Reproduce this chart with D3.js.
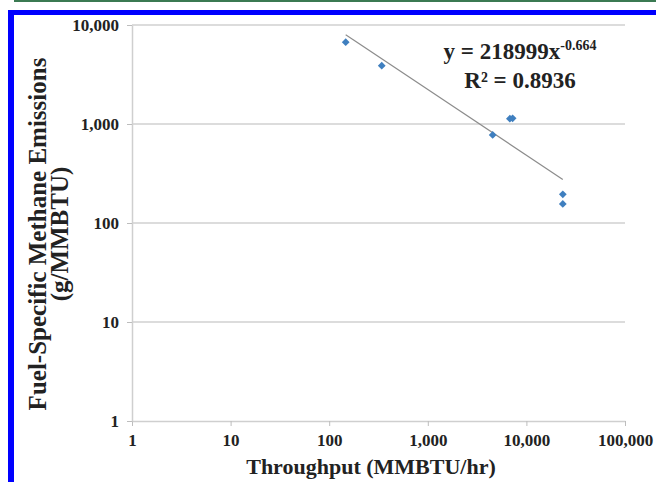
<!DOCTYPE html>
<html lang="en">
<head>
    <meta charset="UTF-8">
    <title>Methane emissions vs throughput</title>
    <script src="https://d3js.org/d3.v7.min.js"></script>
    <style>
        body {margin: 0; background: white;}
        text {font-family: "Liberation Serif", "Times New Roman", serif; font-weight: bold; fill: #222;}
        .tick line {stroke: #bdbdbd;}
        .domain {stroke: #cfcfcf;}
    </style>
</head>
<body>
<script>
    const width = 656;
    const height = 482;

    // throughput (MMBTU/hr) and fuel-specific emissions (g/MMBTU)
    const throughput = [147, 341, 4550, 6800, 7250, 23400, 23400];
    const emissions  = [6700, 3880, 775, 1130, 1140, 195, 156];

    const xTicks = [1, 10, 100, 1000, 10000, 100000];
    const yTicks = [1, 10, 100, 1000, 10000];

    // power trendline shown on the chart
    const fitCoef = 218999;
    const fitExp  = -0.664;
    const fitR2   = "0.8936";

    const svg = d3.select("body").append("svg")
            .attr("width", width).attr("height", height);

    // frame: green rule on top, blue border left/top
    svg.append("rect").attr("x", 14).attr("y", 0).attr("width", width - 14).attr("height", 2)
            .style("fill", "#3b7a52");
    svg.append("rect").attr("x", 8).attr("y", 10).attr("width", width - 8).attr("height", 5)
            .style("fill", "#0000ff");
    svg.append("rect").attr("x", 8).attr("y", 10).attr("width", 6).attr("height", height - 10)
            .style("fill", "#0000ff");

    const x = d3.scaleLog().domain([1, 100000]).range([132, 625]);
    const y = d3.scaleLog().domain([1, 10000]).range([421, 25]);

    // horizontal gridlines
    svg.append("g").attr("class", "grid")
            .selectAll("line")
            .data(yTicks.slice(1))
            .enter()
            .append("line")
            .attr("x1", x(1)).attr("x2", x(100000))
            .attr("y1", d => y(d)).attr("y2", d => y(d))
            .style("stroke", "#d0d0d0")
            .style("stroke-width", 1.5);

    const xAxis = svg.append("g")
            .attr("transform", `translate(0,${y(1)})`)
            .call(d3.axisBottom(x).tickValues(xTicks).tickFormat(d3.format(",")).tickSize(5).tickSizeOuter(0));

    const yAxis = svg.append("g")
            .attr("transform", `translate(${x(1)},0)`)
            .call(d3.axisLeft(y).tickValues(yTicks).tickFormat(d3.format(",")).tickSize(5).tickSizeOuter(0));

    [xAxis, yAxis].forEach(a => {
        a.select(".domain").style("stroke-width", 1.5);
        a.selectAll("text").style("font-size", "17px").style("fill", "#222");
    });
    xAxis.selectAll("text").attr("dy", "1.0em");
    yAxis.selectAll("text").attr("x", -13);

    // trendline across the data range
    const xr = d3.extent(throughput);
    svg.append("line")
            .attr("x1", x(xr[0])).attr("y1", y(fitCoef * Math.pow(xr[0], fitExp)))
            .attr("x2", x(xr[1])).attr("y2", y(fitCoef * Math.pow(xr[1], fitExp)))
            .style("stroke", "#8c8c8c")
            .style("stroke-width", 1.2);

    // data points (diamonds)
    svg.selectAll("path.point")
            .data(throughput.map((t, i) => [t, emissions[i]]))
            .enter()
            .append("path")
            .attr("class", "point")
            .attr("d", d3.symbol(d3.symbolSquare, 30))
            .attr("transform", d => `translate(${x(d[0])},${y(d[1])}) rotate(45)`)
            .style("fill", "#3f7fbf");

    // equation
    const eq = svg.append("text")
            .attr("x", 520).attr("y", 59)
            .attr("text-anchor", "middle")
            .style("font-size", "23px");
    eq.append("tspan").text("y = " + fitCoef + "x");
    eq.append("tspan").attr("dy", -9).style("font-size", "14px").text(fitExp.toFixed(3));

    svg.append("text")
            .attr("x", 520).attr("y", 88)
            .attr("text-anchor", "middle")
            .style("font-size", "23px")
            .text("R\u00b2 = " + fitR2);

    // axis titles
    svg.append("text")
            .attr("x", 371).attr("y", 474)
            .attr("text-anchor", "middle")
            .style("font-size", "22px")
            .text("Throughput (MMBTU/hr)");

    const yt = svg.append("text")
            .attr("transform", "translate(46,234) rotate(-90)")
            .attr("text-anchor", "middle")
            .style("font-size", "25px");
    yt.append("tspan").attr("x", 0).attr("y", 0).text("Fuel-Specific Methane Emissions");
    yt.append("tspan").attr("x", 0).attr("y", 22).text("(g/MMBTU)");
</script>
</body>
</html>
